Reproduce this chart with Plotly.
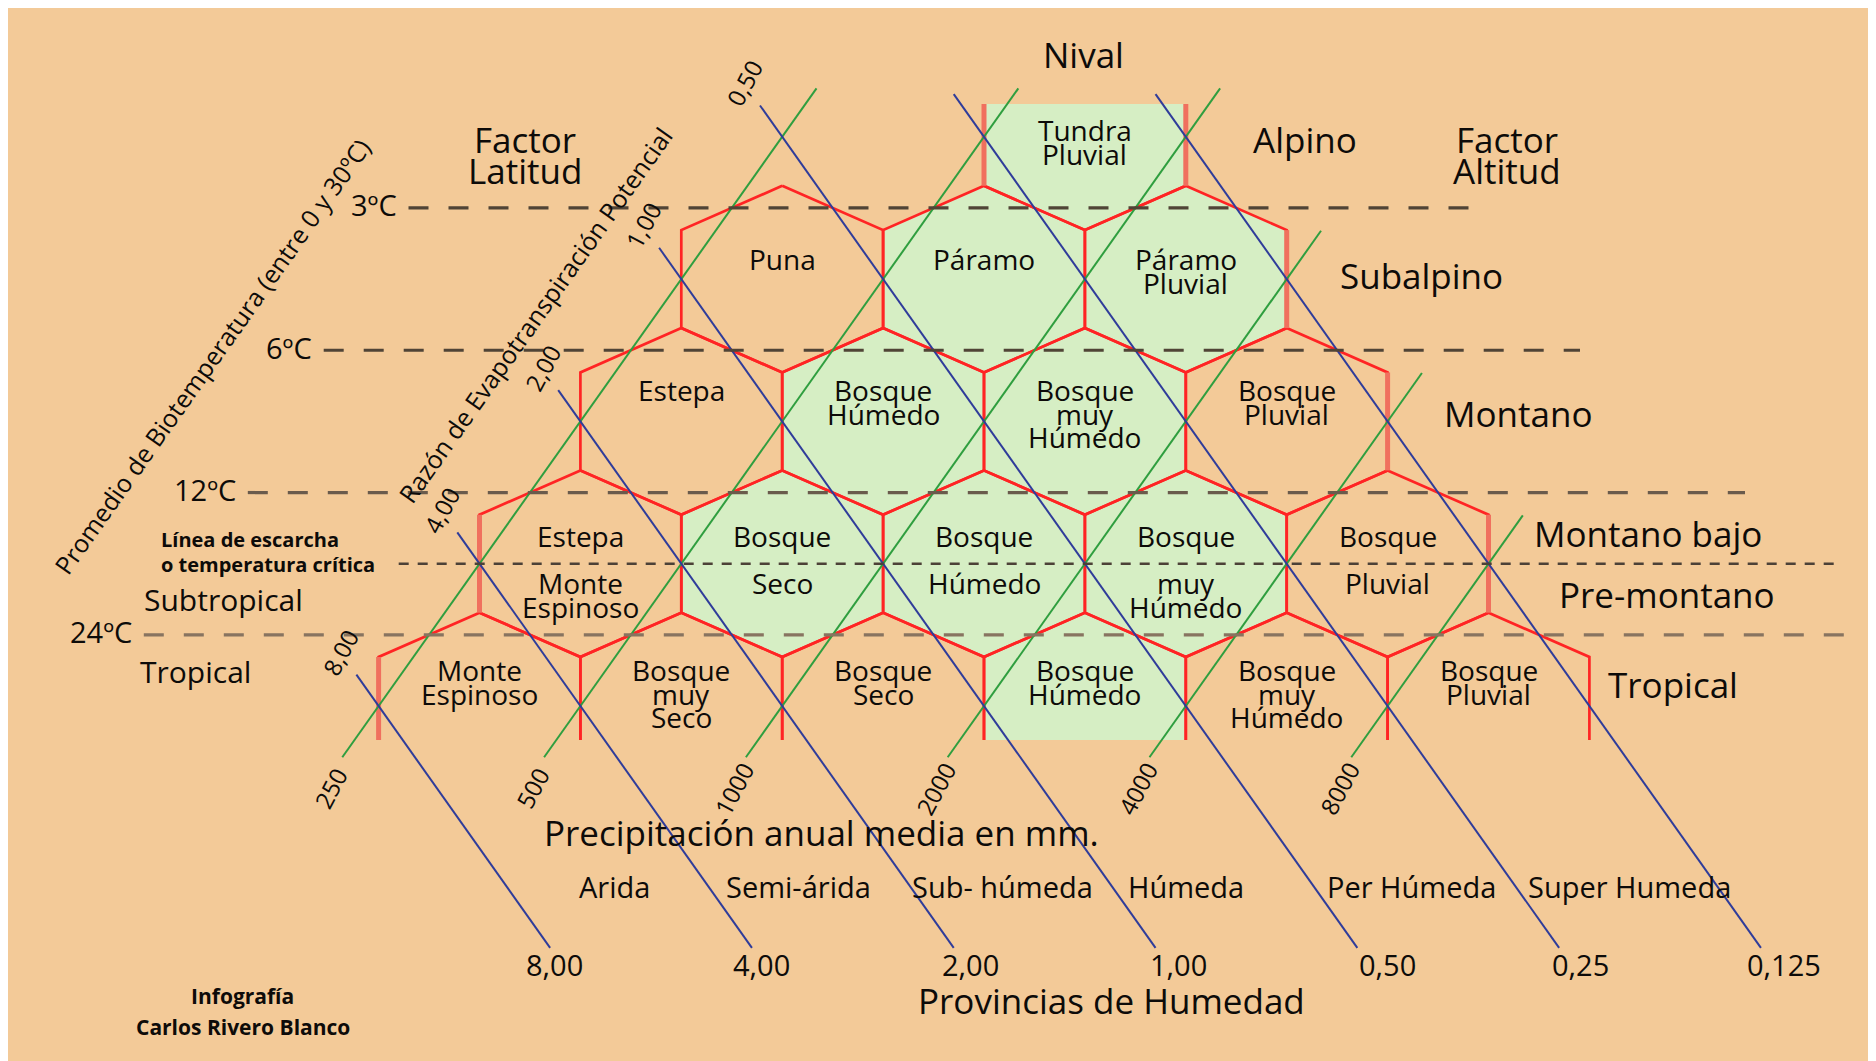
import plotly.graph_objects as go

W, H = 1876, 1061
PAGE_OFF = 8                 # the page puts the figure 8px in from the top-left
BG = "#F3CA98"
GREEN_FILL = "#D6EEC4"
RED = "#FF2424"
SALMON = "#F0705E"
GREEN_LINE = "#2F9E3F"
BLUE_LINE = "#2F3C9A"
INK = "#0d0b09"
FONT = "Open Sans"

# ---- data -------------------------------------------------------------
# life zones, row 0 = tropical basal belt ... row 4 = alpine
zone_row = [0, 0, 0, 0, 0, 0, 1, 1, 1, 1, 1, 2, 2, 2, 2, 3, 3, 3, 4]
zone_col = [0, 1, 2, 3, 4, 5, 0, 1, 2, 3, 4, 0, 1, 2, 3, 0, 1, 2, 1]
zone_name = [
    ["Monte", "Espinoso"], ["Bosque", "muy", "Seco"], ["Bosque", "Seco"],
    ["Bosque", "Húmedo"], ["Bosque", "muy", "Húmedo"], ["Bosque", "Pluvial"],
    ["Estepa", "Monte", "Espinoso"], ["Bosque", "Seco"], ["Bosque", "Húmedo"],
    ["Bosque", "muy", "Húmedo"], ["Bosque", "Pluvial"],
    ["Estepa"], ["Bosque", "Húmedo"], ["Bosque", "muy", "Húmedo"], ["Bosque", "Pluvial"],
    ["Puna"], ["Páramo"], ["Páramo", "Pluvial"],
    ["Tundra", "Pluvial"],
]
zone_humid = [0, 0, 0, 1, 0, 0, 0, 1, 1, 1, 0, 0, 1, 1, 0, 0, 1, 1, 1]

precip_mm = ["250", "500", "1000", "2000", "4000", "8000"]
pet_ratio = ["8,00", "4,00", "2,00", "1,00", "0,50", "0,25", "0,125"]
provinces = ["Arida", "Semi-árida", "Sub- húmeda", "Húmeda", "Per Húmeda", "Super Humeda"]

temp_labels = ["3ºC", "6ºC", "12ºC", "24ºC"]
temp_level = [3.5, 2.5, 1.5, 0.5]      # in belt rows
frost_level = 1.0

altitude_belts = ["Nival", "Alpino", "Subalpino", "Montano", "Montano bajo", "Pre-montano", "Tropical"]
latitude_belts = ["Subtropical", "Tropical"]

# ---- grid frame (screen placement of the hexagon lattice) ---------------
X0, DXP = 378.6, 100.9      # half a hexagon width
Y0, DYP = 706.0, 142.3      # one belt row
EDGE = 49 / DYP             # half a vertical side, in rows


def px(x):
    return (x - X0) / DXP


def py(y):
    return (Y0 - y) / DYP


CLIP_LO = py(740)
CLIP_HI = py(104)


def zone_outline(r, c):
    cu, cv = r + 1 + 2 * c, r
    top, bot = cv + 1 - EDGE, cv - 1 + EDGE
    if r == 0:
        return [(cu - 1, CLIP_LO), (cu - 1, cv + EDGE), (cu, top), (cu + 1, cv + EDGE), (cu + 1, CLIP_LO)]
    if r == 4:
        return [(cu - 1, CLIP_HI), (cu - 1, cv - EDGE), (cu, bot), (cu + 1, cv - EDGE), (cu + 1, CLIP_HI)]
    return [(cu, top), (cu + 1, cv + EDGE), (cu + 1, cv - EDGE), (cu, bot),
            (cu - 1, cv - EDGE), (cu - 1, cv + EDGE), (cu, top)]


fig = go.Figure()

# green fills
for r, c, g in zip(zone_row, zone_col, zone_humid):
    if g:
        pts = zone_outline(r, c)
        fig.add_trace(go.Scatter(x=[p[0] for p in pts], y=[p[1] for p in pts], mode="lines",
                                 fill="toself", fillcolor=GREEN_FILL, line=dict(width=0)))

# red hexagon edges
ex, ey = [], []
for r, c in zip(zone_row, zone_col):
    for p in zone_outline(r, c):
        ex.append(p[0]); ey.append(p[1])
    ex.append(None); ey.append(None)
fig.add_trace(go.Scatter(x=ex, y=ey, mode="lines", line=dict(color=RED, width=2.7)))

# outer vertical sides look softer / wider
sx, sy = [], []
outer = [(0, 0), (1, 1), (1, 11), (2, 10), (3, 9), (4, 6), (4, 8)]
for r, u in outer:
    lo = CLIP_LO if r == 0 else r - EDGE
    hi = CLIP_HI if r == 4 else r + EDGE
    sx += [u, u, None]; sy += [lo, hi, None]
fig.add_trace(go.Scatter(x=sx, y=sy, mode="lines", line=dict(color=SALMON, width=5)))

# precipitation lines (green) and PET ratio lines (blue)
gx, gy = [], []
for k in range(len(precip_mm)):
    t0, t1 = -0.36, min(4.34, 6.34 - k)
    gx += [2 * k + t0, 2 * k + t1, None]; gy += [t0, t1, None]
fig.add_trace(go.Scatter(x=gx, y=gy, mode="lines", line=dict(color=GREEN_LINE, width=2)))

bx, by = [], []
for k in range(len(pet_ratio)):
    t0, t1 = -1.70, min(4.3, k + 0.22)
    bx += [2 * k - t0, 2 * k - t1, None]; by += [t0, t1, None]
fig.add_trace(go.Scatter(x=bx, y=by, mode="lines", line=dict(color=BLUE_LINE, width=2)))

# temperature lines
t_start = [408.5, 323.7, 247.8, 143.8]
t_end = [1478, 1580, 1745, 1860]
t_col = ["#504436", "#504436", "#6a5b4c", "#887460"]
for lab, lev, a, b, col in zip(temp_labels, temp_level, t_start, t_end, t_col):
    fig.add_trace(go.Scatter(x=[px(a), px(b)], y=[lev, lev], mode="lines",
                             line=dict(color=col, width=3.2, dash="20px,20px")))
fig.add_trace(go.Scatter(x=[px(398.7), px(1842)], y=[frost_level, frost_level], mode="lines",
                         line=dict(color="#4c4137", width=2.6, dash="10px,9px")))

ann = []


def text(x, y, s, size, angle=0, anchor="center", weight=400):
    ann.append(dict(x=x, y=y, text=s, showarrow=False, xanchor=anchor, yanchor="middle",
                    textangle=angle, yshift=0 if angle else round(0.12 * size),
                    font=dict(family=FONT, size=size, color=INK, weight=weight)))


# zone names
first_line = {0: -33, 2: -28, 3: -17, 4: -3.5}
for r, c, name in zip(zone_row, zone_col, zone_name):
    cu = r + 1 + 2 * c
    cy = Y0 - r * DYP
    if r == 1:
        ys = [cy - 24.6] + [cy + 22.4 + 23.5 * i for i in range(len(name) - 1)]
    else:
        ys = [cy + first_line[r] + 23.5 * i for i in range(len(name))]
    for w, yy in zip(name, ys):
        text(cu, py(yy), w, 28)

# temperature labels
for lab, lev, a in zip(temp_labels, temp_level, t_start):
    text(px(a - 10), lev, lab, 29, anchor="right")

# belts
belt_pos = [(1083, 58), (1305, 143), (1421, 279), (1518, 417), (1648, 537), (1667, 598), (1673, 688)]
for s, (x, y) in zip(altitude_belts, belt_pos):
    text(px(x), py(y), s, 35)
for s, (x, y) in zip(latitude_belts, [(223, 603), (195, 675)]):
    text(px(x), py(y), s, 30)
text(px(525), py(143), "Factor", 35)
text(px(525), py(174), "Latitud", 35)
text(px(1507), py(143), "Factor", 35)
text(px(1507), py(174), "Altitud", 35)
text(px(158.5), py(541), "Línea de escarcha", 20, anchor="left", weight=700)
text(px(158.5), py(566), "o temperatura crítica", 20, anchor="left", weight=700)

# axis titles along the precipitation direction
slope_angle = -54.7
text(px(212), py(356), "Promedio de Biotemperatura (entre 0 y 30ºC)", 25, angle=slope_angle)
text(px(535), py(315), "Razón de Evapotranspiración Potencial", 25, angle=slope_angle)

# line labels
for k, s in enumerate(precip_mm):
    u, v = 2 * k - 0.36, -0.36
    text(u - 12 / DXP, v - 31 / DYP, s, 24, angle=-62)
for k, s in enumerate(pet_ratio[:5]):
    t1 = min(4.3, k + 0.22)
    text(2 * k - t1 - 16 / DXP, t1 + 22 / DYP, s, 24, angle=-62)

ratio_x = [554.6, 761.4, 970, 1178.6, 1387, 1580, 1783.8]
for s, x in zip(pet_ratio, ratio_x):
    text(px(x), py(967), s, 29)

prov_x = [614.5, 798.9, 1002.7, 1186, 1411.8, 1629.8]
for s, x in zip(provinces, prov_x):
    text(px(x), py(889), s, 29)

text(px(821), py(836), "Precipitación anual media en mm.", 35)
text(px(1111.6), py(1004), "Provincias de Humedad", 35)
text(px(242.8), py(999), "Infografía", 21, weight=700)
text(px(242.8), py(1030), "Carlos Rivero Blanco", 21, weight=700)

fig.update_layout(
    width=W, height=H, autosize=False,
    margin=dict(l=0, r=0, t=0, b=0),
    paper_bgcolor=BG, plot_bgcolor=BG,
    showlegend=False, hovermode=False,
    xaxis=dict(range=[px(PAGE_OFF), px(PAGE_OFF + W)], visible=False, fixedrange=True),
    yaxis=dict(range=[py(PAGE_OFF + H), py(PAGE_OFF)], visible=False, fixedrange=True),
    annotations=ann,
)

fig.write_html("out.html")
